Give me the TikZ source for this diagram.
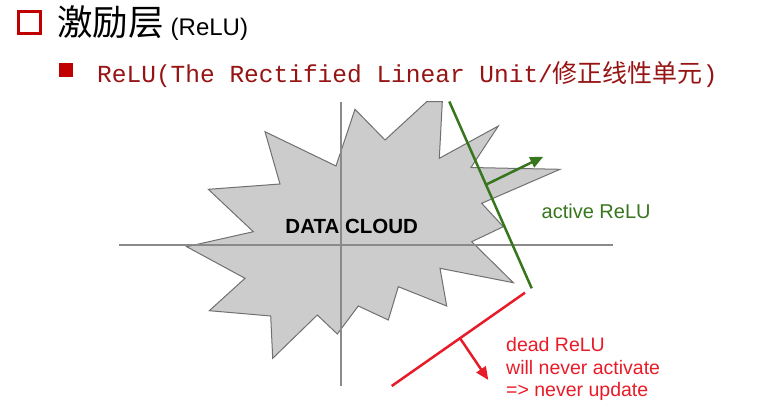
\documentclass[tikz,border=0pt]{standalone}
\usepackage{fontspec}
\setmainfont{Liberation Sans}
\newfontfamily\cjk{Noto Sans CJK SC}
\newfontfamily\monof{Liberation Mono}
\usetikzlibrary{arrows.meta}
\definecolor{cloudfill}{HTML}{CCCCCC}
\definecolor{cloudline}{HTML}{707070}
\definecolor{axisgray}{HTML}{8A8A8A}
\definecolor{relugreen}{RGB}{56,118,29}
\definecolor{relured}{RGB}{232,28,40}
\definecolor{titlered}{RGB}{192,0,0}
\definecolor{subred}{RGB}{150,20,20}
\tikzset{
  axisline/.style={draw=axisgray,line width=1.5pt},
  cloud/.style={fill=cloudfill,draw=cloudline,line width=1pt,line join=miter},
  greenline/.style={draw=relugreen,line width=2.5pt},
  redline/.style={draw=relured,line width=2.5pt},
  greenarrow/.style={draw=relugreen,line width=2.5pt,-{Triangle[length=13pt,width=11pt]}},
  redarrow/.style={draw=relured,line width=2.5pt,-{Triangle[length=13pt,width=11pt]}},
  lbl/.style={inner sep=0pt,anchor=base west},
}
\begin{document}
\begin{tikzpicture}[x=1pt,y=-1pt]
\path[use as bounding box] (0,0) rectangle (762,410);
% header
\node[draw=titlered,line width=3pt,minimum size=22pt,inner sep=0pt] (box1) at (29,22.5) {};
\node[lbl] (title) at (57,35) {{\cjk\fontsize{35.5}{40}\selectfont 激励层}\hspace{7pt}{\fontsize{24}{28}\selectfont (ReLU)}};
\node[fill=titlered,minimum size=14pt,inner sep=0pt] (box2) at (65.5,70.3) {};
\node[lbl,text=subred] (sub) at (97,82) {\monof\fontsize{24.5}{28}\selectfont ReLU(The Rectified Linear Unit/{\cjk\fontsize{25}{28}\selectfont 修正线性单元})};
% cloud
\path[cloud] (186.7,246.7) -- (253.3,231.7) -- (208.3,189.3) -- (280,184) -- (265,131.7)
  -- (336,166) -- (355,109.3) -- (385,140) -- (426.7,101.7) -- (442.3,101.7)
  -- (439.3,158.3) -- (498.3,126) -- (471,167.5) -- (560,169.3) -- (481.7,203.3)
  -- (503.3,226.7) -- (471.7,241.7) -- (513.3,282.7) -- (440,268.3) -- (446.7,306)
  -- (398.3,286.7) -- (388.3,320) -- (358.3,306) -- (337.3,334) -- (317.3,315)
  -- (272.7,358.3) -- (270.7,316) -- (209.3,310.7) -- (245,278.3) -- cycle;
% axes
\coordinate (xl) at (119,245);
\coordinate (xr) at (613,245);
\coordinate (yt) at (341,101.5);
\coordinate (yb) at (341,386);
\draw[axisline] (xl) -- (xr);
\draw[axisline] (yt) -- (yb);
\node[inner sep=0pt] (dc) at (351.7,226.5) {\fontsize{20.5}{24}\selectfont\bfseries DATA CLOUD};
% green
\coordinate (g1) at (449.3,101.5);
\coordinate (g2) at (531.7,288.3);
\coordinate (ga) at (486.3,184.5);
\coordinate (gb) at (543.3,156.7);
\draw[greenline] (g1) -- (g2);
\draw[greenarrow] (ga) -- (gb);
\node[lbl,text=relugreen] (act) at (541.5,218) {\fontsize{20}{24}\selectfont active ReLU};
% red
\coordinate (r1) at (391.7,386);
\coordinate (r2) at (525,292.7);
\coordinate (ra) at (460,338.2);
\coordinate (rb) at (488.3,380);
\draw[redline] (r1) -- (r2);
\draw[redarrow] (ra) -- (rb);
\node[lbl,text=relured,align=left,font=\fontsize{19.5}{22.5}\selectfont] (dead) at (506,396.5) {dead ReLU\\will never activate\\=> never update};
\end{tikzpicture}
\end{document}
